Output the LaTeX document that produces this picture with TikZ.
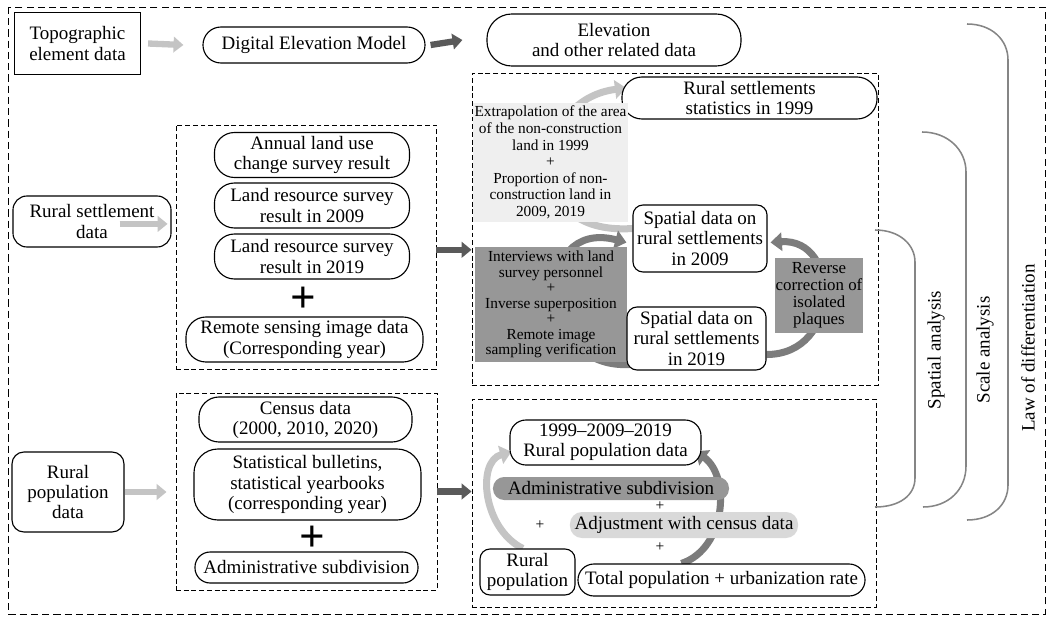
\documentclass[tikz,border=0pt]{standalone}
\usepackage{fontspec}
\setmainfont{Liberation Serif}
\usetikzlibrary{calc}
\usetikzlibrary{arrows.meta}
\usetikzlibrary{backgrounds}
\tikzset{>={Triangle[length=7pt,width=11pt]}}
\usepackage[svgnames]{xcolor}
\definecolor{lightarr}{HTML}{C4C4C4}
\definecolor{darkarr}{HTML}{5A5A5A}
\definecolor{arcgray}{HTML}{7C7C7C}
\definecolor{boxgray}{HTML}{979797}
\definecolor{boxlight}{HTML}{EFEFEF}
\definecolor{boxmid}{HTML}{D9D9D9}
\definecolor{brgray}{HTML}{858585}

\tikzset{
  txt/.style={font=\fontsize{13.5}{14.3}\selectfont, align=center, inner sep=0pt},
  smalltxt/.style={font=\fontsize{10.9}{11.8}\selectfont, align=center, inner sep=0pt},
  sqbox/.style={txt, draw, line width=0.8pt},
  rbox/.style={txt, draw, line width=0.8pt, fill=white, rounded corners=#1},
  rbox/.default=0.3cm,
  fillbox/.style={smalltxt, fill=#1},
  pillfill/.style={txt, fill=#1, rounded corners=0.3cm},
  grpbox/.style={draw, dash pattern=on 3.5pt off 2pt, line width=0.6pt},
  outerbox/.style={draw, dash pattern=on 5pt off 3pt, line width=0.7pt},
  lightarrow/.style={->, draw=lightarr, line width=4.5pt},
  darkarrow/.style={->, draw=darkarr, line width=4.5pt},
  bendlight/.style={-{Triangle[length=8pt,width=13pt]}, draw=lightarr, line width=5pt},
  benddark/.style={-{Triangle[length=8pt,width=13pt]}, draw=arcgray, line width=5pt},
  bracket/.style={draw=brgray, line width=1.1pt},
  bigplus/.style={font=\fontsize{32}{32}\selectfont\bfseries, inner sep=0pt},
  plus/.style={font=\fontsize{11}{11}\selectfont, inner sep=0pt},
}

\begin{document}
\begin{tikzpicture}[x=0.025cm,y=-0.025cm]
  \useasboundingbox (0,0) rectangle (1051,623);
  % 外框
  \draw[outerbox] (8,7) rectangle (1045,614);

  % 地形要素
  \node[sqbox, minimum width=3.15cm, minimum height=1.55cm] (topo) at (77.5,43.5) {Topographic\\element data};
  \node[rbox=0.45cm, minimum width=5.55cm, minimum height=0.9cm] (dem) at (314,45) {Digital Elevation Model};
  \node[rbox=0.62cm, minimum width=6.35cm, minimum height=1.3cm] (elev) at (614,40) {Elevation\\and other related data};
  \draw[lightarrow] ([xshift=0.175cm]topo.east) -- ([xshift=-0.475cm]dem.west);
  \draw[darkarrow] ([xshift=0.125cm]dem.east) -- ([xshift=-0.6cm]elev.west);

  % 农村居民点数据
  \node[rbox=0.35cm, minimum width=3.95cm, minimum height=1.275cm] (settle) at (92,221.5) {Rural settlement\\data};
  \node[grpbox, minimum width=6.5cm, minimum height=6.1cm] (grpA) at (306,247) {};
  \node[rbox=0.5cm, minimum width=4.875cm, minimum height=1.125cm] (landuse) at (312,155) {Annual land use\\change survey result};
  \node[rbox=0.5cm, minimum width=4.875cm, minimum height=1.125cm] (lr09) at (312,205.5) {Land resource survey\\result in 2009};
  \node[rbox=0.5cm, minimum width=4.875cm, minimum height=1.125cm] (lr19) at (312,256.5) {Land resource survey\\result in 2019};
  \node[bigplus] (plusA) at (303,300) {+};
  \node[rbox=0.5cm, minimum width=5.925cm, minimum height=1.125cm] (remote) at (304.5,339.5) {Remote sensing image data\\(Corresponding year)};
  \draw[lightarrow] ([xshift=-1.3cm,yshift=-0.06cm]settle.east) -- ([xshift=-0.2cm,yshift=-0.06cm]settle.east -| grpA.west);

  % 居民点空间数据
  \node[grpbox, minimum width=10.15cm, minimum height=7.8cm] (grpB) at (675,229) {};
  \draw[darkarrow] ([yshift=-0.07cm]grpA.east) -- ([yshift=-0.07cm]grpA.east -| grpB.west);
  \node[rbox=0.5cm, minimum width=6.375cm, minimum height=1.05cm] (stat99) at (749.5,98) {Rural settlements\\statistics in 1999};
  \node[fillbox=boxlight, minimum width=3.875cm, minimum height=2.975cm] (extra) at (550.5,162.5) {Extrapolation of the area\\of the non-construction\\land in 1999\\+\\Proportion of non-\\construction land in\\2009, 2019};
  \node[fillbox=boxgray, minimum width=3.8cm, minimum height=2.875cm, font=\fontsize{10.9}{11}\selectfont] (interv) at (551,304.5) {Interviews with land\\survey personnel\\+\\Inverse superposition\\+\\Remote image\\sampling verification};
  \node[rbox=0.25cm, minimum width=3.35cm, minimum height=1.675cm] (sp09) at (700,238.5) {Spatial data on\\rural settlements\\in 2009};
  \node[rbox=0.25cm, minimum width=3.475cm, minimum height=1.575cm] (sp19) at (696.5,338.5) {Spatial data on\\rural settlements\\in 2019};
  \node[fillbox=boxgray, minimum width=2.2cm, minimum height=1.875cm, font=\fontsize{12}{12.2}\selectfont] (rev) at (819,295.5) {Reverse\\correction of\\isolated\\plaques};
  \begin{pgfonlayer}{background}
    \draw[bendlight] ([yshift=0.25cm]sp09.west) .. controls +(-115,8) and +(-95,12) .. ([xshift=0.12cm,yshift=0.25cm]stat99.west);
    \draw[benddark] ([xshift=0.075cm,yshift=-0.65cm]sp19.west) .. controls +(-95,5) and +(-95,-25) .. ([xshift=-0.15cm,yshift=-0.1cm]sp09.west);
    \draw[benddark] ([yshift=-0.4cm]sp19.east) .. controls +(75,0) and +(70,-5) .. ([xshift=0.075cm,yshift=-0.1cm]sp09.east);
  \end{pgfonlayer}

  % 农村人口数据
  \node[rbox=0.3cm, minimum width=2.8cm, minimum height=2cm] (popdata) at (68,492) {Rural\\population\\data};
  \node[grpbox, minimum width=6.525cm, minimum height=4.925cm] (grpC) at (306.5,491.5) {};
  \node[rbox=0.5cm, minimum width=5.325cm, minimum height=1.125cm] (census) at (305.5,419.5) {Census data\\(2000, 2010, 2020)};
  \node[rbox=0.6cm, minimum width=5.675cm, minimum height=1.775cm] (bullet) at (307.5,484.5) {Statistical bulletins,\\statistical yearbooks\\(corresponding year)};
  \node[bigplus] (plusC) at (312,539) {+};
  \node[rbox=0.38cm, minimum width=5.575cm, minimum height=0.775cm] (adminL) at (306.5,567.5) {Administrative subdivision};
  \draw[lightarrow] (popdata.east) -- ([xshift=-0.225cm]popdata.east -| grpC.west);

  % 农村人口处理
  \node[grpbox, minimum width=10.1cm, minimum height=5.2cm] (grpD) at (674,503) {};
  \draw[darkarrow] (grpC.east) -- (grpC.east -| grpD.west);
  \node[rbox=0.4cm, minimum width=4.775cm, minimum height=1.125cm] (y99) at (605.5,442.5) {1999--2009--2019\\Rural population data};
  \node[pillfill=boxgray, minimum width=5.9cm, minimum height=0.575cm, rounded corners=0.28cm] (adminR) at (611,488.5) {Administrative subdivision};
  \node[pillfill=boxmid, minimum width=5.7cm, minimum height=0.65cm] (adjust) at (684,525) {Adjustment with census data};
  \node[plus] (plusD1) at (660,506) {+};
  \node[plus] (plusD2) at (540,525) {+};
  \node[plus] (plusD3) at (660,547) {+};
  \node[rbox=0.25cm, minimum width=2.375cm, minimum height=1.15cm] (rpop) at (527.5,572) {Rural\\population};
  \node[rbox=0.4cm, minimum width=7.175cm, minimum height=0.8cm] (total) at (721.5,580) {Total population + urbanization rate};
  \begin{pgfonlayer}{background}
    \draw[bendlight] ([xshift=-0.12cm]rpop.north) .. controls +(-40,-20) and +(-35,10) .. ([xshift=0.05cm,yshift=-0.23cm]y99.west);
    \draw[benddark] ([xshift=-1cm]total.north) .. controls +(45,-15) and +(35,25) .. ([xshift=-0.15cm,yshift=-0.22cm]y99.east);
  \end{pgfonlayer}

  % 分析
  \draw[bracket] (875,230) .. controls (900,230) and (915,245) .. (915,262) -- (915,478) .. controls (915,495) and (900,507) .. (875,507);
  \draw[bracket] (922,132) .. controls (948,132) and (966,150) .. (966,172) -- (966,466) .. controls (966,490) and (948,507) .. (923,507);
  \draw[bracket] (967,24) .. controls (992,24) and (1008,40) .. (1008,60) -- (1008,485) .. controls (1008,505) and (992,520) .. (967,520);
  \node[txt, rotate=90] (spatial) at (936,350) {Spatial analysis};
  \node[txt, rotate=90] (scale) at (985,350) {Scale analysis};
  \node[txt, rotate=90] (law) at (1028,348) {Law of differentiation};
\end{tikzpicture}
\end{document}
